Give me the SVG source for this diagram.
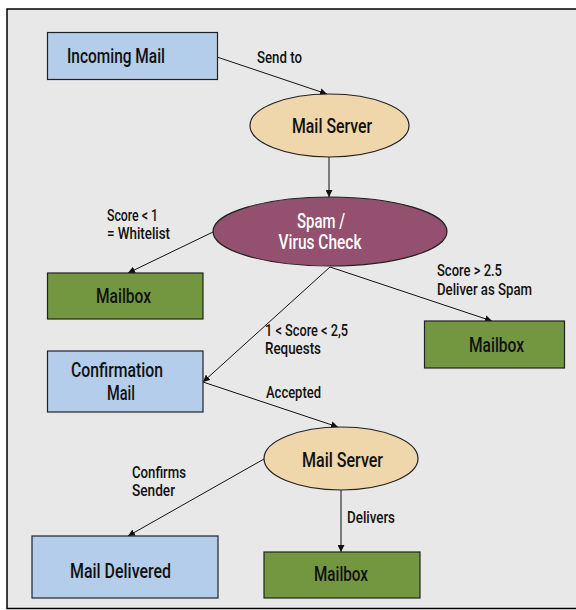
<svg xmlns="http://www.w3.org/2000/svg" width="576" height="610" viewBox="0 0 576 610">
<defs>
<marker id="ah" viewBox="0 0 10 10" refX="10" refY="5" markerWidth="7" markerHeight="7" markerUnits="userSpaceOnUse" orient="auto">
<path d="M0,0 L10,5 L0,10 z" fill="#111"/>
</marker>
<style>
.box{stroke:#222;stroke-width:1.2}
.blue{fill:#b4cdea}
.green{fill:#739641}
.tan{fill:#efd6ab}
.purple{fill:#93506f}
.nt{font-family:Roboto,"Liberation Sans",sans-serif;font-weight:500;font-size:19.5px;fill:#111;text-anchor:middle}
.wt{fill:#fff}
.lt{font-family:Roboto,"Liberation Sans",sans-serif;font-weight:500;font-size:16px;fill:#111}
.cn{stroke:#111;stroke-width:1;fill:none;marker-end:url(#ah)}
</style>
</defs>
<rect x="7" y="9" width="600" height="599.5" fill="#e8e8e8" stroke="#000" stroke-width="1.5"/>
<g id="connectors">
<line class="cn" x1="217" y1="57" x2="327" y2="94"/>
<line class="cn" x1="329" y1="157" x2="329" y2="197"/>
<line class="cn" x1="213" y1="232" x2="128" y2="273"/>
<line class="cn" x1="330" y1="267" x2="492" y2="321"/>
<line class="cn" x1="330" y1="267" x2="203" y2="382"/>
<line class="cn" x1="203" y1="382" x2="338" y2="427"/>
<line class="cn" x1="264" y1="459" x2="128" y2="536"/>
<line class="cn" x1="341" y1="490" x2="341" y2="552"/>
<text class="lt" x="257" y="63" textLength="45" lengthAdjust="spacingAndGlyphs">Send to</text>
<text class="lt" x="107" y="221" textLength="51" lengthAdjust="spacingAndGlyphs">Score &lt; 1</text>
<text class="lt" x="107" y="239" textLength="63" lengthAdjust="spacingAndGlyphs">= Whitelist</text>
<text class="lt" x="437" y="276" textLength="65" lengthAdjust="spacingAndGlyphs">Score &gt; 2.5</text>
<text class="lt" x="437" y="295" textLength="95" lengthAdjust="spacingAndGlyphs">Deliver as Spam</text>
<text class="lt" x="265" y="336" textLength="83" lengthAdjust="spacingAndGlyphs">1 &lt; Score &lt; 2,5</text>
<text class="lt" x="265" y="354" textLength="56" lengthAdjust="spacingAndGlyphs">Requests</text>
<text class="lt" x="266" y="398" textLength="55" lengthAdjust="spacingAndGlyphs">Accepted</text>
<text class="lt" x="132" y="478" textLength="54" lengthAdjust="spacingAndGlyphs">Confirms</text>
<text class="lt" x="132" y="496" textLength="43" lengthAdjust="spacingAndGlyphs">Sender</text>
<text class="lt" x="347" y="523" textLength="48" lengthAdjust="spacingAndGlyphs">Delivers</text>
</g>
<g id="incoming">
<rect class="box blue" x="47.5" y="32.5" width="170" height="47"/>
<text class="nt" x="116" y="63" textLength="98" lengthAdjust="spacingAndGlyphs">Incoming Mail</text>
</g>
<g id="server1">
<ellipse class="box tan" cx="329.5" cy="125.5" rx="79.5" ry="31.5"/>
<text class="nt" x="332" y="133" textLength="80" lengthAdjust="spacingAndGlyphs">Mail Server</text>
</g>
<g id="spamcheck">
<ellipse class="box purple" cx="330" cy="231.5" rx="117" ry="34.5"/>
<text class="nt wt" x="321" y="228" textLength="48" lengthAdjust="spacingAndGlyphs">Spam /</text>
<text class="nt wt" x="320" y="249" textLength="83" lengthAdjust="spacingAndGlyphs">Virus Check</text>
</g>
<g id="mailbox1">
<rect class="box green" x="47.5" y="273" width="155.5" height="46"/>
<text class="nt" x="123.5" y="303" textLength="55" lengthAdjust="spacingAndGlyphs">Mailbox</text>
</g>
<g id="mailbox2">
<rect class="box green" x="424.5" y="321" width="140" height="47"/>
<text class="nt" x="496.5" y="352" textLength="55" lengthAdjust="spacingAndGlyphs">Mailbox</text>
</g>
<g id="confirmation">
<rect class="box blue" x="47.5" y="351" width="155.5" height="61"/>
<text class="nt" x="117" y="377" textLength="92" lengthAdjust="spacingAndGlyphs">Confirmation</text>
<text class="nt" x="121" y="400" textLength="28" lengthAdjust="spacingAndGlyphs">Mail</text>
</g>
<g id="server2">
<ellipse class="box tan" cx="341" cy="458.5" rx="77" ry="31.5"/>
<text class="nt" x="342.5" y="467" textLength="81" lengthAdjust="spacingAndGlyphs">Mail Server</text>
</g>
<g id="delivered">
<rect class="box blue" x="32" y="536" width="186" height="62"/>
<text class="nt" x="120.5" y="578" textLength="101" lengthAdjust="spacingAndGlyphs">Mail Delivered</text>
</g>
<g id="mailbox3">
<rect class="box green" x="264" y="552" width="156" height="46"/>
<text class="nt" x="341" y="581" textLength="54" lengthAdjust="spacingAndGlyphs">Mailbox</text>
</g>
</svg>
